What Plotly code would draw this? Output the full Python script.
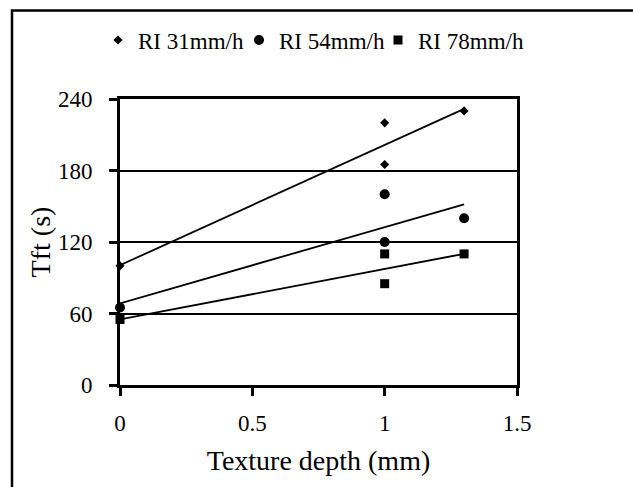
import numpy as np
import plotly.graph_objects as go

series_names = ["RI 31mm/h", "RI 54mm/h", "RI 78mm/h"]
texture_depth = [0, 1, 1, 1.3]
tft_31 = [100, 220, 185, 230]
tft_54 = [65, 160, 120, 140]
tft_78 = [55, 110, 85, 110]
x_ticks = [0, 0.5, 1, 1.5]
x_tick_labels = ["0", "0.5", "1", "1.5"]
y_ticks = [0, 60, 120, 180, 240]

symbols = ["diamond", "circle", "square"]
sizes = [7, 10, 9]
legend_ids = ["legend", "legend2", "legend3"]
legend_left_px = [98, 239, 378]
FONT = "Liberation Serif, Times New Roman, serif"
FS = 23

W, H = 633, 487
L, R, T, B = 120, 116, 99, 102
pw, ph = W - L - R, H - T - B

def px_x(p):
    return (p - L) / pw

def px_y(p):
    return (H - B - p) / ph

fig = go.Figure()
for name, ys, sym, sz, lg in zip(series_names, [tft_31, tft_54, tft_78], symbols, sizes, legend_ids):
    fig.add_trace(go.Scatter(
        x=texture_depth, y=ys, mode="markers", name=name, legend=lg,
        marker=dict(symbol=sym, size=sz, color="black"),
        cliponaxis=False,
    ))
for ys in [tft_31, tft_54, tft_78]:
    k, b = np.polyfit(texture_depth, ys, 1)
    xs = [min(texture_depth), max(texture_depth)]
    fig.add_trace(go.Scatter(
        x=xs, y=[b + k * v for v in xs], mode="lines",
        line=dict(color="black", width=1.8), showlegend=False, hoverinfo="skip",
    ))

fig.add_shape(type="rect", xref="paper", yref="paper",
              x0=px_x(12), x1=px_x(700), y0=px_y(560), y1=px_y(10.5),
              line=dict(color="black", width=2.5), fillcolor="rgba(0,0,0,0)", layer="above")

legend_common = dict(orientation="h", xanchor="left", yanchor="middle",
                     y=px_y(40), font=dict(family=FONT, size=FS, color="black"),
                     itemwidth=30, bgcolor="rgba(0,0,0,0)", borderwidth=0)
legends = {}
for lg, lx in zip(legend_ids, legend_left_px):
    legends[lg] = dict(legend_common, x=px_x(lx))

fig.update_layout(
    width=W, height=H,
    margin=dict(l=L, r=R, t=T, b=B, autoexpand=False),
    paper_bgcolor="white", plot_bgcolor="white",
    font=dict(family=FONT, size=FS, color="black"),
    showlegend=True,
    **legends,
    xaxis=dict(range=[0, 1.5], tickvals=x_ticks, ticktext=x_tick_labels,
               showgrid=False, zeroline=False, showline=True, linecolor="black",
               linewidth=3, mirror=True, ticks="outside", ticklen=8, tickwidth=2.5,
               tickcolor="black", ticklabelstandoff=7,
               title=dict(text="Texture depth (mm)", standoff=16)),
    yaxis=dict(range=[0, 240], tickvals=y_ticks,
               showgrid=True, gridcolor="black", gridwidth=2, zeroline=False,
               showline=True, linecolor="black", linewidth=3, mirror=True,
               ticks="outside", ticklen=8, tickwidth=2.5, tickcolor="black",
               ticklabelstandoff=12,
               title=dict(text="Tft (s)", standoff=0)),
)

fig.write_html("out.html")
